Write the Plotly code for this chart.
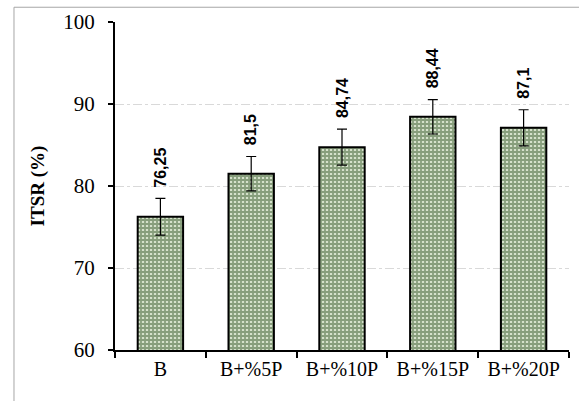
import plotly.graph_objects as go

categories = ["B", "B+%5P", "B+%10P", "B+%15P", "B+%20P"]
values = [76.25, 81.5, 84.74, 88.44, 87.1]
errors = [2.25, 2.1, 2.2, 2.1, 2.2]
labels = ["76,25", "81,5", "84,74", "88,44", "87,1"]
y_ticks = [60, 70, 80, 90, 100]

fig = go.Figure()
fig.add_trace(go.Bar(
    x=categories, y=values, width=0.5,
    marker=dict(
        color="#8fa882",
        line=dict(color="black", width=2),
        pattern=dict(shape="+", fgcolor="#3a5c2d", bgcolor="#d5e1cb", size=4, solidity=0.7),
    ),
    error_y=dict(type="data", array=errors, color="black", thickness=1.2, width=5),
    showlegend=False,
))

for c, v, e, t in zip(categories, values, errors, labels):
    fig.add_annotation(x=c, y=v + e, text=t, textangle=-90, showarrow=False,
                       xanchor="center", yanchor="bottom", yshift=9,
                       font=dict(family="Liberation Sans", size=16, color="black", weight="bold"))

# outer frame (left and top edges)
fig.add_shape(type="line", xref="paper", yref="paper", x0=-0.2225, x1=-0.2225, y0=-0.25, y1=1.045,
              line=dict(color="#a6a6a6", width=1))
fig.add_shape(type="line", xref="paper", yref="paper", x0=-0.2225, x1=1.05, y0=1.045, y1=1.045,
              line=dict(color="#a6a6a6", width=1))

fig.update_layout(
    width=579, height=401,
    margin=dict(l=115, r=10, t=17, b=51),
    paper_bgcolor="white", plot_bgcolor="white",
    font=dict(family="Liberation Serif", size=20, color="black"),
    bargap=0.5,
)
fig.update_xaxes(
    showline=True, linecolor="black", linewidth=2,
    ticks="outside", ticklen=6, tickwidth=2, tickcolor="black",
    tickson="boundaries", showgrid=False,
    tickfont=dict(family="Liberation Serif", size=20),
)
fig.update_yaxes(
    range=[60, 100], tickvals=y_ticks,
    showline=True, linecolor="black", linewidth=2,
    ticks="outside", ticklen=5, tickwidth=2, tickcolor="black",
    ticklabelstandoff=9,
    showgrid=True, gridcolor="#d9d9d9", griddash="dashdot", gridwidth=1,
    zeroline=False,
    tickfont=dict(family="Liberation Serif", size=21),
    title=dict(text="<b>ITSR (%)</b>", font=dict(family="Liberation Serif", size=19), standoff=14),
)

fig.write_html("out.html", config={"displayModeBar": False},
               post_script="document.body.style.margin='0';")
